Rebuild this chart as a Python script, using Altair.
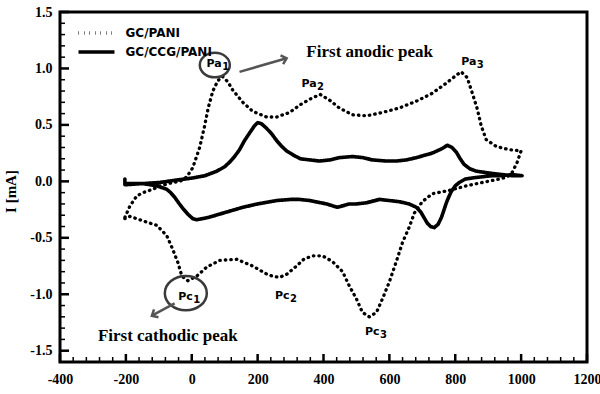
import altair as alt
import pandas as pd

# ---------------- data ----------------
# GC/PANI (dotted), full cyclic scan: forward then reverse
pani_E = [-203, -188, -167, -148, -118, -97, -58, -36, -15, 3, 24, 39, 50, 64, 79, 93,
          110, 124, 155, 185, 227, 258, 297, 330, 360, 390, 418, 448, 488, 530, 579,
          630, 682, 730, 773, 803, 818, 836, 852, 867, 879, 894, 924, 964, 1000, 988,
          973, 958, 933, 882, 833, 782, 730, 700, 676, 661, 640, 621, 600, 579, 561,
          539, 518, 500, 479, 458, 427, 397, 367, 340, 318, 290, 267, 245, 227, 185,
          136, 85, 45, 15, -12, -30, -42, -58, -76, -106, -148, -188, -203]
pani_I = [-0.32, -0.22, -0.13, -0.10, -0.07, -0.04, -0.01, 0.00, 0.04, 0.12, 0.30, 0.49,
          0.65, 0.80, 0.89, 0.93, 0.88, 0.81, 0.70, 0.62, 0.57, 0.57, 0.61, 0.68, 0.73,
          0.77, 0.72, 0.65, 0.59, 0.58, 0.61, 0.65, 0.71, 0.78, 0.87, 0.94, 0.97, 0.92,
          0.78, 0.64, 0.49, 0.37, 0.31, 0.28, 0.27, 0.17, 0.08, 0.04, 0.02, -0.01, -0.04,
          -0.08, -0.11, -0.18, -0.28, -0.40, -0.54, -0.71, -0.89, -1.04, -1.16, -1.20,
          -1.16, -1.04, -0.93, -0.80, -0.71, -0.66, -0.66, -0.69, -0.75, -0.82, -0.85,
          -0.84, -0.82, -0.75, -0.69, -0.70, -0.76, -0.84, -0.88, -0.84, -0.72, -0.60,
          -0.48, -0.39, -0.35, -0.31, -0.33]

# GC/CCG/PANI (solid)
ccg_E = [-203, -203, -150, -97, -50, 3, 40, 76, 100, 115, 130, 145, 160, 176, 190, 200,
         212, 227, 243, 258, 273, 288, 310, 330, 358, 388, 420, 448, 488, 520, 548, 590,
         621, 652, 682, 730, 760, 776, 790, 803, 815, 827, 845, 864, 912, 973, 1003,
         973, 940, 912, 880, 852, 830, 812, 800, 788, 780, 773, 765, 758, 748, 736, 725,
         715, 705, 695, 682, 660, 630, 600, 570, 530, 500, 479, 442, 420, 409, 358, 327,
         300, 258, 200, 155, 120, 85, 50, 33, 15, 3, -12, -27, -40, -52, -64, -76, -106,
         -148, -203]
ccg_I = [0.02, -0.03, -0.02, -0.01, 0.01, 0.03, 0.05, 0.09, 0.13, 0.17, 0.22, 0.28, 0.36,
         0.43, 0.49, 0.52, 0.51, 0.47, 0.42, 0.36, 0.31, 0.27, 0.23, 0.20, 0.19, 0.18,
         0.19, 0.21, 0.22, 0.21, 0.19, 0.18, 0.18, 0.19, 0.21, 0.25, 0.29, 0.32, 0.30,
         0.26, 0.20, 0.15, 0.11, 0.09, 0.07, 0.05, 0.05, 0.06, 0.05, 0.05, 0.04, 0.03,
         0.02, -0.01, -0.04, -0.09, -0.14, -0.19, -0.26, -0.32, -0.38, -0.41, -0.40,
         -0.37, -0.32, -0.27, -0.23, -0.20, -0.18, -0.17, -0.16, -0.19, -0.20, -0.20,
         -0.23, -0.21, -0.20, -0.17, -0.16, -0.16, -0.17, -0.20, -0.23, -0.26, -0.29,
         -0.32, -0.33, -0.34, -0.33, -0.29, -0.24, -0.19, -0.14, -0.10, -0.07, -0.04,
         -0.02, -0.02]

series_names = ["GC/PANI", "GC/CCG/PANI"]

x_major = [-400, -200, 0, 200, 400, 600, 800, 1000, 1200]
y_major = [-1.5, -1.0, -0.5, 0.0, 0.5, 1.0, 1.5]
x_minor = [v for v in range(-360, 1200, 40) if v not in x_major]
y_minor = [round(-1.5 + 0.1 * i, 1) for i in range(31)
           if round(-1.5 + 0.1 * i, 1) not in y_major]

# peak labels: main text, subscript, E, I (anchor between main text and subscript)
peak_main = ["Pa", "Pa", "Pa", "Pc", "Pc", "Pc"]
peak_sub = ["1", "2", "3", "1", "2", "3"]
peak_E = [91, 379, 864, 3, 297, 570]
peak_I = [1.015, 0.84, 1.03, -1.05, -1.04, -1.36]

# circled peaks (centres)
circ_a_E, circ_a_I = [70], [1.03]
circ_c_E, circ_c_I = [-18], [-0.99]

# notes
note_text = ["First anodic peak", "First cathodic peak"]
note_E = [348, -285]
note_I = [1.10, -1.41]

# arrows (start -> end)
arr_E = [145, -52]
arr_I = [0.97, -1.08]
arr_E2 = [288, -121]
arr_I2 = [1.09, -1.19]

# ---------------- build ----------------
XD = [-400, 1200]
YD = [-1.6, 1.5]
xs = alt.Scale(domain=XD, nice=False, zero=False)
ys = alt.Scale(domain=YD, nice=False, zero=False)

pani = pd.DataFrame({"E": pani_E, "I": pani_I, "k": range(len(pani_E)),
                     "series": series_names[0]})
ccg = pd.DataFrame({"E": ccg_E, "I": ccg_I, "k": range(len(ccg_E)),
                    "series": series_names[1]})

dash = alt.StrokeDash(
    "series:N",
    scale=alt.Scale(domain=series_names, range=[[0.5, 5], [1, 0]]),
    legend=alt.Legend(
        title=None, orient="none", legendX=28.5, legendY=13, padding=0,
        symbolType="M -3 0 L 3 0", symbolSize=144, symbolStrokeWidth=3.3,
        symbolStrokeColor="black", labelOffset=21, rowPadding=4,
        labelFont="DejaVu Sans", labelFontWeight="bold", labelFontSize=12,
        labelColor="black", labelLimit=300,
    ),
)

lab_expr = "replace(format(datum.value, '{f}'), '\u2212', '-')"

x_enc = alt.X("E:Q", scale=xs, axis=alt.Axis(
    values=x_major, ticks=False, domain=False, grid=False, title=None,
    labelExpr=lab_expr.format(f="d"), labelFont="Liberation Serif",
    labelFontWeight="bold", labelFontSize=14, labelColor="black", labelPadding=10,
    labelOverlap=False, labelFlush=False))
y_enc = alt.Y("I:Q", scale=ys, axis=alt.Axis(
    values=y_major, ticks=False, domain=False, grid=False, title="I [mA]",
    labelExpr=lab_expr.format(f=".1f"), labelFont="Liberation Serif",
    labelFontWeight="bold", labelFontSize=14, labelColor="black", labelPadding=8,
    titleFont="Liberation Serif", titleFontWeight="bold", titleFontSize=15,
    titleColor="black", titleX=-50, titleY=179, titleAngle=270,
    titleAlign="center", titleBaseline="middle", labelOverlap=False, labelFlush=False))

xe = alt.X("E:Q", scale=xs)
ye = alt.Y("I:Q", scale=ys)

line_pani = alt.Chart(pani).mark_line(
    color="black", strokeWidth=3.3, strokeCap="round", strokeJoin="round"
).encode(x=x_enc, y=y_enc, strokeDash=dash, order="k:Q")

line_ccg = alt.Chart(ccg).mark_line(
    color="black", strokeWidth=3.6, strokeCap="round", strokeJoin="round"
).encode(x=xe, y=ye, strokeDash=dash, order="k:Q")

# inward ticks
def yticks(vals, length, width):
    return alt.Chart(pd.DataFrame({"I": vals})).mark_rule(
        color="black", strokeWidth=width).encode(
        y=ye, x=alt.value(0), x2=alt.value(length))

def xticks(vals, length, width):
    return alt.Chart(pd.DataFrame({"E": vals})).mark_rule(
        color="black", strokeWidth=width).encode(
        x=xe, y=alt.value(350), y2=alt.value(350 - length))

peaks = pd.DataFrame({"m": peak_main, "s": peak_sub, "E": peak_E, "I": peak_I})
peak_txt = alt.Chart(peaks).mark_text(
    align="right", baseline="alphabetic", font="DejaVu Sans", fontWeight="bold",
    fontSize=11, color="black").encode(x=xe, y=ye, text="m:N")
peak_sub_txt = alt.Chart(peaks).mark_text(
    align="left", baseline="alphabetic", font="DejaVu Sans", fontWeight="bold",
    fontSize=10, dy=3, dx=0.5, color="black").encode(x=xe, y=ye, text="s:N")

ellipse = "M -1 0 A 1 0.82 0 1 1 1 0 A 1 0.82 0 1 1 -1 0 Z"
circ_a = alt.Chart(pd.DataFrame({"E": circ_a_E, "I": circ_a_I})).mark_point(
    shape=ellipse, size=900, filled=False, stroke="#3a3a3a", strokeWidth=2.5,
    opacity=1).encode(x=xe, y=ye)
circ_c = alt.Chart(pd.DataFrame({"E": circ_c_E, "I": circ_c_I})).mark_point(
    shape=ellipse, size=1764, filled=False, stroke="#3a3a3a", strokeWidth=2.5,
    opacity=1).encode(x=xe, y=ye)

notes = alt.Chart(pd.DataFrame({"t": note_text, "E": note_E, "I": note_I})).mark_text(
    align="left", baseline="alphabetic", font="Liberation Serif", fontWeight="bold",
    fontSize=17, color="black").encode(x=xe, y=ye, text="t:N")

arrows = pd.DataFrame({"E": arr_E, "I": arr_I, "E2": arr_E2, "I2": arr_I2})
arr_lines = alt.Chart(arrows).mark_rule(color="#555555", strokeWidth=2.5).encode(
    x=xe, y=ye, x2="E2:Q", y2="I2:Q")
chevron = "M -1 -0.9 L 0 0 L -1 0.9"
head1 = alt.Chart(pd.DataFrame({"E": arr_E2[:1], "I": arr_I2[:1]})).mark_point(
    shape=chevron, size=100, filled=False, stroke="#555555", strokeWidth=2.5,
    angle=343.4, opacity=1).encode(x=xe, y=ye)
head2 = alt.Chart(pd.DataFrame({"E": arr_E2[1:], "I": arr_I2[1:]})).mark_point(
    shape=chevron, size=100, filled=False, stroke="#555555", strokeWidth=2.5,
    angle=150.5, opacity=1).encode(x=xe, y=ye)

chart = alt.layer(
    line_pani, line_ccg,
    yticks(y_major, 9, 2.5), yticks(y_minor, 5, 1.5),
    xticks(x_major, 8, 2.5), xticks(x_minor, 5, 1.5),
    circ_a, circ_c, arr_lines, head1, head2, peak_txt, peak_sub_txt, notes,
).properties(
    width=527, height=350,
    autosize=alt.AutoSizeParams(type="none"),
    padding={"left": 60, "top": 12, "right": 13, "bottom": 32},
    background="white",
).configure_view(stroke="black", strokeWidth=3)

chart.save("out.html", embed_options={"renderer": "svg", "actions": False})
